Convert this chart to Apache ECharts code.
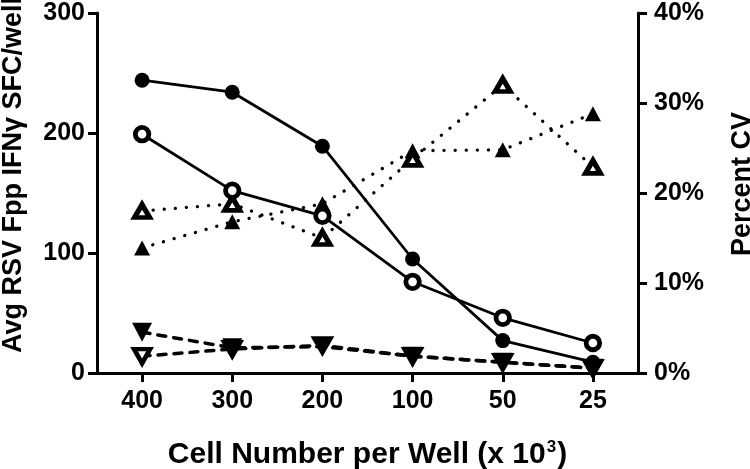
<!DOCTYPE html>
<html>
<head>
<meta charset="utf-8">
<script src="https://cdn.jsdelivr.net/npm/echarts@6/dist/echarts.min.js"></script>
<style>
html,body{margin:0;padding:0;background:#fff;}
#chart{width:750px;height:469px;}
</style>
</head>
<body>
<div id="chart"></div>
<script>
// Categories (cell number per well, x10^3)
var categories = ['400', '300', '200', '100', '50', '25'];
// Avg SFC/well (left axis)
var avgFilledCircle = [244, 234, 189, 95, 27, 9];
var avgOpenCircle = [199, 152, 131, 76, 46, 25];
// Percent CV (right axis)
var cvFilledTriangle = [13.9, 16.8, 18.8, 24.7, 24.8, 28.8];
var cvOpenTriangle = [18.0, 18.8, 15.0, 23.8, 32.0, 22.9];
// Down triangles (left axis)
var downFilled = [34, 21, 22, 14, 9, 4];
var downOpen = [14, 20, 23, 14, 9, 4];
// Tick values
var leftTicks = {min: 0, max: 300, interval: 100};
var rightTicks = {min: 0, max: 40, interval: 10};

var FONT = "'Liberation Sans', Arial, sans-serif";
var chart = echarts.init(document.getElementById('chart'));

function axisCommon() {
  return {
    axisLine: {show: true, lineStyle: {color: '#000', width: 3}},
    axisTick: {show: true, length: 9, lineStyle: {color: '#000', width: 3}},
    splitLine: {show: false},
    axisLabel: {color: '#000', fontSize: 25, fontWeight: 'bold', fontFamily: FONT}
  };
}

var xAxis = axisCommon();
Object.assign(xAxis, {
  type: 'category',
  data: categories,
  boundaryGap: true,
  name: 'Cell Number per Well (x 10{sup|3})',
  nameLocation: 'middle',
  nameGap: 66,
  nameTextStyle: {
    color: '#000', fontSize: 30, fontWeight: 'bold', fontFamily: FONT,
    rich: {sup: {fontSize: 17, fontWeight: 'bold', fontFamily: FONT, color: '#000', verticalAlign: 'top', padding: [0, 1, 14, 1]}}
  }
});
xAxis.axisTick.alignWithLabel = true;
xAxis.axisLabel.margin = 16;

var yLeft = axisCommon();
Object.assign(yLeft, {
  type: 'value', position: 'left',
  min: leftTicks.min, max: leftTicks.max, interval: leftTicks.interval,
  name: 'Avg RSV Fpp IFN\u03b3 SFC/well',
  nameLocation: 'middle', nameRotate: 90, nameGap: 70,
  nameTextStyle: {color: '#000', fontSize: 27, fontWeight: 'bold', fontFamily: FONT, padding: [0, 0, 0, 36]}
});
yLeft.axisLabel.margin = 12;

var yRight = axisCommon();
Object.assign(yRight, {
  type: 'value', position: 'right',
  min: rightTicks.min, max: rightTicks.max, interval: rightTicks.interval,
  name: 'Percent CV',
  nameLocation: 'middle', nameRotate: 90, nameGap: 91,
  nameTextStyle: {color: '#000', fontSize: 27, fontWeight: 'bold', fontFamily: FONT, padding: [0, 0, 0, 18]}
});
yRight.axisLabel.margin = 16;
yRight.axisLabel.formatter = '{value}%';

var DOT = {color: '#000', width: 3.3, type: [0.1, 11], cap: 'round'};
var DASH = {color: '#000', width: 3.5, type: [8, 8], cap: 'round'};
var SOLID = {color: '#000', width: 2.8};

chart.setOption({
  animation: false,
  backgroundColor: '#fff',
  grid: {left: 97, right: 112, top: 13, bottom: 96, containLabel: false, outerBoundsMode: 'none'},
  xAxis: xAxis,
  yAxis: [yLeft, yRight],
  series: [
    {
      type: 'line', yAxisIndex: 1, data: cvFilledTriangle,
      symbol: 'triangle', symbolSize: [16, 15],
      lineStyle: DOT, itemStyle: {color: '#000'}
    },
    {
      type: 'line', yAxisIndex: 1, data: cvOpenTriangle,
      symbol: 'triangle', symbolSize: [15, 13],
      lineStyle: DOT, itemStyle: {color: '#fff', borderColor: '#000', borderWidth: 5}
    },
    {
      type: 'line', yAxisIndex: 0, data: downOpen,
      symbol: 'triangle', symbolRotate: 180, symbolSize: [16, 14],
      lineStyle: DASH, itemStyle: {color: '#fff', borderColor: '#000', borderWidth: 4.5}
    },
    {
      type: 'line', yAxisIndex: 0, data: downFilled,
      symbol: 'triangle', symbolRotate: 180, symbolSize: [20, 19],
      lineStyle: DASH, itemStyle: {color: '#000'}
    },
    {
      type: 'line', yAxisIndex: 0, data: avgOpenCircle,
      symbol: 'circle', symbolSize: 13.5,
      lineStyle: SOLID, itemStyle: {color: '#fff', borderColor: '#000', borderWidth: 4.8}
    },
    {
      type: 'line', yAxisIndex: 0, data: avgFilledCircle,
      symbol: 'circle', symbolSize: 15,
      lineStyle: SOLID, itemStyle: {color: '#000'}
    }
  ]
});
</script>
</body>
</html>
